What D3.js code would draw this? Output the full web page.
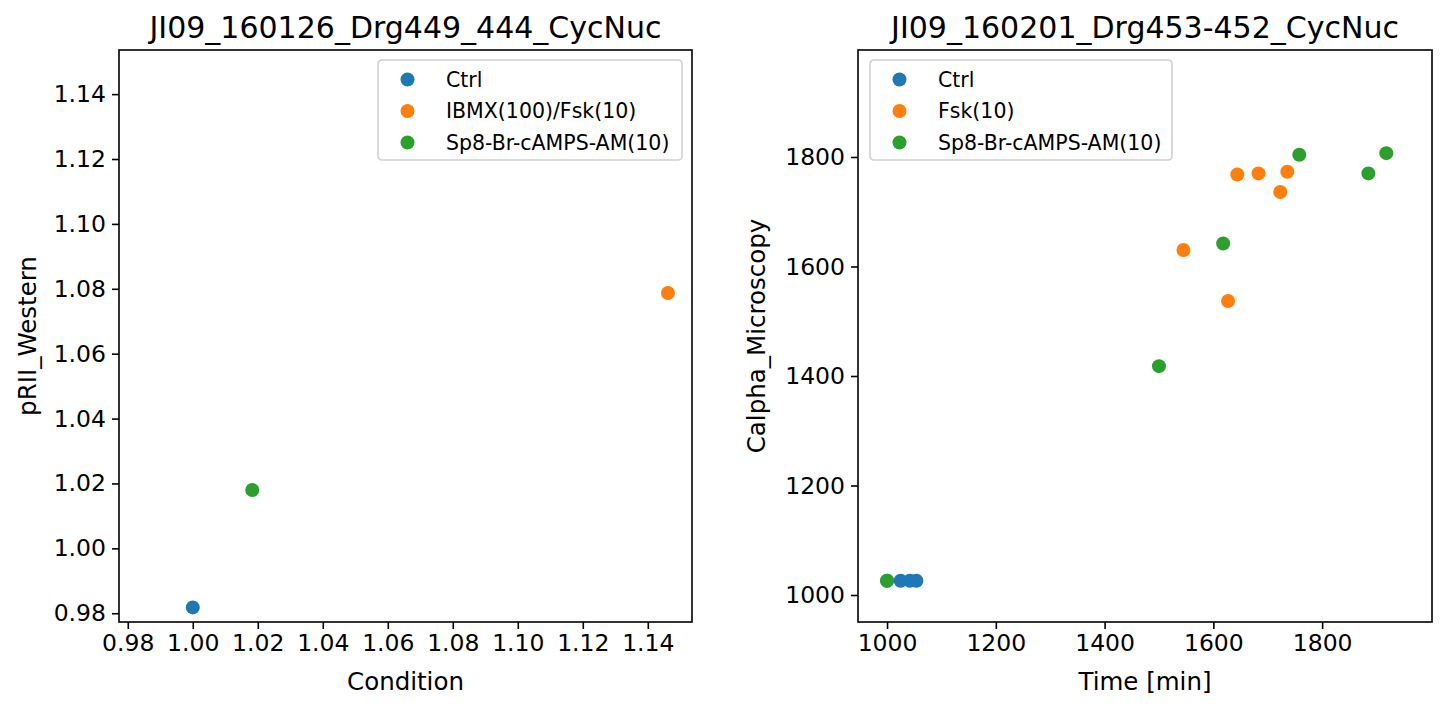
<!DOCTYPE html>
<html>
<head>
<meta charset="utf-8">
<script src="https://cdn.jsdelivr.net/npm/d3@7"></script>
<style>
  body { margin: 0; background: #fff; }
  svg text { font-family: "DejaVu Sans", sans-serif; fill: #000; }
</style>
</head>
<body>
<div id="chart"></div>
<script>
// left panel: western blot vs condition
const westernTitle = "JI09_160126_Drg449_444_CycNuc";
const westernNames = ["Ctrl", "IBMX(100)/Fsk(10)", "Sp8-Br-cAMPS-AM(10)"];
const westernX = [[1.000], [1.1462], [1.0183]];
const westernY = [[0.9818], [1.0787], [1.0180]];
const westernTicks = [0.98, 1.00, 1.02, 1.04, 1.06, 1.08, 1.10, 1.12, 1.14];

// right panel: microscopy vs time
const microTitle = "JI09_160201_Drg453-452_CycNuc";
const microNames = ["Ctrl", "Fsk(10)", "Sp8-Br-cAMPS-AM(10)"];
const microX = [
  [1000, 1025, 1042, 1054],
  [1644, 1683, 1736, 1723, 1545, 1627],
  [1758, 1918, 1885, 1618, 1500, 1000]
];
const microY = [
  [1026, 1026, 1026, 1026],
  [1768, 1770, 1773, 1736, 1630, 1537],
  [1804, 1807, 1770, 1642, 1418, 1026]
];
const microTicks = [1000, 1200, 1400, 1600, 1800];

const colors = ["#1f77b4", "#ff7f0e", "#2ca02c"];

const W = 1447, H = 711;
const svg = d3.select("#chart").append("svg")
    .attr("width", W).attr("height", H);

function drawPanel(opt) {
    const x = d3.scaleLinear().domain(opt.xDomain).range([opt.left, opt.right]);
    const y = d3.scaleLinear().domain(opt.yDomain).range([opt.bottom, opt.top]);
    const g = svg.append("g");

    // axes
    const xAxis = g.append("g")
        .attr("transform", `translate(0,${opt.bottom})`)
        .call(d3.axisBottom(x).tickValues(opt.xTicks).tickSize(7).tickPadding(5).tickFormat(opt.fmt));
    const yAxis = g.append("g")
        .attr("transform", `translate(${opt.left},0)`)
        .call(d3.axisLeft(y).tickValues(opt.yTicks).tickSize(7).tickPadding(6).tickFormat(opt.fmt));
    [xAxis, yAxis].forEach(a => {
        a.select(".domain").remove();
        a.selectAll(".tick line").attr("stroke", "#000").attr("stroke-width", 1.6);
        a.selectAll(".tick text").attr("font-size", "23.5px").attr("fill", "#000");
    });
    xAxis.selectAll(".tick text").attr("dy", "0.74em");

    // points
    opt.xs.forEach((xs, i) => {
        g.append("g").selectAll("circle")
            .data(xs.map((v, j) => [v, opt.ys[i][j]]))
            .join("circle")
            .attr("cx", d => x(d[0]))
            .attr("cy", d => y(d[1]))
            .attr("r", 7)
            .attr("fill", colors[i]);
    });

    // frame
    g.append("rect")
        .attr("x", opt.left).attr("y", opt.top)
        .attr("width", opt.right - opt.left).attr("height", opt.bottom - opt.top)
        .attr("fill", "none").attr("stroke", "#000").attr("stroke-width", 1.6);

    // labels
    const cx = (opt.left + opt.right) / 2;
    g.append("text").attr("x", cx).attr("y", opt.top - 12)
        .attr("text-anchor", "middle").attr("font-size", "30px").text(opt.title);
    g.append("text").attr("x", cx).attr("y", 690)
        .attr("text-anchor", "middle").attr("font-size", "24.5px").text(opt.xLabel);
    g.append("text")
        .attr("transform", `translate(${opt.yLabelX},${(opt.top + opt.bottom) / 2}) rotate(-90)`)
        .attr("text-anchor", "middle").attr("font-size", "24.5px").text(opt.yLabel);

    // legend
    const lg = g.append("g").attr("transform", `translate(${opt.legX},${opt.top + 10})`);
    lg.append("rect").attr("width", opt.legW).attr("height", 100)
        .attr("rx", 4).attr("fill", "#fff").attr("fill-opacity", 0.8)
        .attr("stroke", "#d0d0d0").attr("stroke-width", 1.6);
    opt.names.forEach((n, i) => {
        const ry = 19.5 + i * 31.5;
        lg.append("circle").attr("cx", 29.5).attr("cy", ry).attr("r", 7).attr("fill", colors[i]);
        lg.append("text").attr("x", 68).attr("y", ry).attr("dy", "0.36em")
            .attr("font-size", "20.5px").text(n);
    });
}

drawPanel({
    left: 119, right: 692, top: 50, bottom: 622,
    xDomain: [0.9773, 1.1536], yDomain: [0.9773, 1.1536],
    xTicks: westernTicks, yTicks: westernTicks, fmt: d3.format(".2f"),
    xs: westernX, ys: westernY, names: westernNames,
    title: westernTitle, xLabel: "Condition", yLabel: "pRII_Western", yLabelX: 36,
    legX: 378, legW: 304
});

drawPanel({
    left: 858, right: 1432, top: 50, bottom: 622,
    xDomain: [946.6, 2002], yDomain: [950.7, 1995.4],
    xTicks: microTicks, yTicks: microTicks, fmt: d3.format("d"),
    xs: microX, ys: microY, names: microNames,
    title: microTitle, xLabel: "Time [min]", yLabel: "Calpha_Microscopy", yLabelX: 765,
    legX: 870, legW: 302
});
</script>
</body>
</html>
